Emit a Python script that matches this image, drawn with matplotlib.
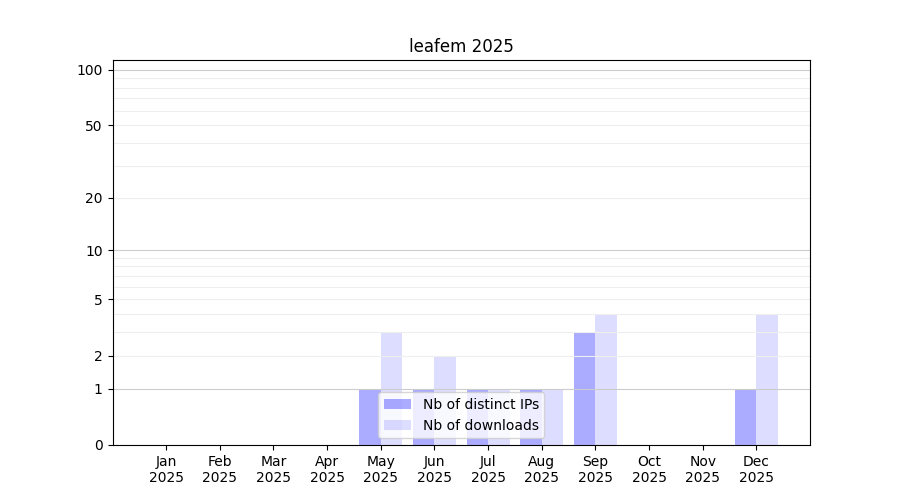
import numpy as np
import matplotlib
matplotlib.use('Agg')
import matplotlib.pyplot as plt


months = ['Jan', 'Feb', 'Mar', 'Apr', 'May', 'Jun', 'Jul', 'Aug', 'Sep', 'Oct', 'Nov', 'Dec']
year = '2025'
distinct_ips = [0, 0, 0, 0, 1, 1, 1, 1, 3, 0, 0, 1]
downloads = [0, 0, 0, 0, 3, 2, 1, 1, 4, 0, 0, 4]

major_ticks = [0, 1, 2, 5, 10, 20, 50, 100]
minor_ticks = [3, 4, 6, 7, 8, 9, 30, 40, 60, 70, 80, 90]
dark_grid = [1, 10, 100]

x = np.arange(len(months))
width = 0.4

fig, ax = plt.subplots(figsize=(9, 5), dpi=100)

ax.bar(x - width / 2, distinct_ips, width, color='blue', alpha=0.33, label='Nb of distinct IPs')
ax.bar(x + width / 2, downloads, width, color='blue', alpha=0.135, label='Nb of downloads')

ax.set_yscale('function', functions=(lambda v: np.log10(1 + np.clip(v, -0.999, None)),
                                     lambda v: 10 ** v - 1))
ax.set_ylim(0, 113)
ax.set_xlim(-1, 12)

ax.set_yticks(major_ticks)
ax.set_yticklabels([str(t) for t in major_ticks])
ax.set_yticks(minor_ticks, minor=True)
ax.tick_params(axis='y', which='minor', length=0)

ax.set_xticks(x)
ax.set_xticklabels([m + '\n' + year for m in months])

ax.grid(True, axis='y', which='both', color='#eeeeee', linewidth=0.8)
for tick in ax.yaxis.get_major_ticks():
    if tick.get_loc() in dark_grid:
        tick.gridline.set_color('#cccccc')
ax.set_axisbelow(False)
for sp in ax.spines.values():
    sp.set_zorder(3)

ax.set_title('leafem 2025')
ax.legend(loc='lower center')

plt.savefig('out.png')
